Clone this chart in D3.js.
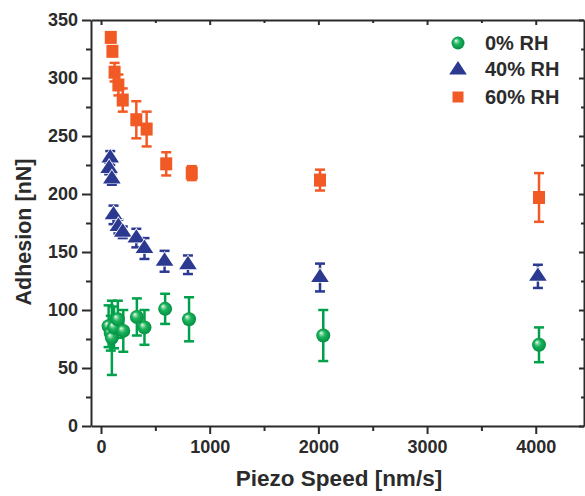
<!DOCTYPE html>
<html>
<head>
<meta charset="utf-8">
<script src="https://cdn.jsdelivr.net/npm/d3@7"></script>
<style>
  html, body { margin: 0; padding: 0; background: #fff; }
  svg { display: block; }
  text { font-family: "Liberation Sans", Arial, sans-serif; font-weight: bold; fill: #2b2b2b; }
</style>
</head>
<body>
<div id="chart"></div>
<script>
// ---- data ----
const seriesNames = ["0% RH", "40% RH", "60% RH"];

const speed0 = [70, 90, 100, 120, 155, 205, 330, 400, 590, 810, 2045, 4030];
const adh0   = [86, 80, 76, 85, 92, 82, 94, 85, 101, 92, 78, 70];
const err0   = [18, 15, 32, 18, 16, 18, 16, 15, 13, 19, 22, 15];

const speed40 = [85, 75, 100, 115, 160, 200, 325, 400, 585, 800, 2015, 4020];
const adh40   = [231, 222, 213, 182, 172, 167, 162, 153, 142, 139, 128, 129];
const err40   = [6, 5, 5, 8, 6, 5, 8, 9, 9, 8, 12, 10];

const speed60 = [90, 105, 125, 160, 200, 325, 420, 600, 835, 2015, 4030];
const adh60   = [335, 323, 305, 294, 281, 264, 256, 226, 218, 212, 197];
const err60   = [3, 4, 8, 9, 10, 16, 15, 10, 6, 9, 21];

const xTicks = [0, 1000, 2000, 3000, 4000];
const yTicks = [0, 50, 100, 150, 200, 250, 300, 350];

// ---- layout ----
const W = 585, H = 496;
const L = 91, R = 584, T = 20, B = 426;
const colors = { c0: "#00a14b", c40: "#2b3990", c60: "#f15a24" };

const svg = d3.select("#chart").append("svg").attr("width", W).attr("height", H);

const defs = svg.append("defs");
const grad = defs.append("radialGradient").attr("id", "ball")
  .attr("cx", "0.5").attr("cy", "0.5").attr("r", "0.55")
  .attr("fx", "0.33").attr("fy", "0.3");
grad.append("stop").attr("offset", "0").attr("stop-color", "#ffffff");
grad.append("stop").attr("offset", "0.18").attr("stop-color", "#8fdcaa");
grad.append("stop").attr("offset", "0.45").attr("stop-color", "#1bb35c");
grad.append("stop").attr("offset", "1").attr("stop-color", "#008a3e");

const x = d3.scaleLinear().domain([-92, 4444]).range([L, R]);
const y = d3.scaleLinear().domain([0, 350]).range([B, T]);

// ---- axes ----
const axisColor = "#2b2b2b";
function styleAxis(g) {
  g.selectAll("path.domain").attr("stroke", axisColor).attr("stroke-width", 2);
  g.selectAll(".tick line").attr("stroke", axisColor).attr("stroke-width", 2);
  g.selectAll("text").attr("font-size", 18).attr("fill", "#2b2b2b")
    .attr("font-family", "'Liberation Sans', Arial, sans-serif").attr("font-weight", "bold");
}
const xMinor = d3.range(500, 4500, 1000);
const yMinor = d3.range(25, 350, 50);

// bottom
const gx = svg.append("g").attr("transform", `translate(0,${B})`)
  .call(d3.axisBottom(x).tickValues(xTicks).tickFormat(d3.format("d")).tickSize(8).tickSizeOuter(0).tickPadding(6));
styleAxis(gx);
svg.append("g").attr("transform", `translate(0,${B})`)
  .call(d3.axisBottom(x).tickValues(xMinor).tickFormat("").tickSize(5).tickSizeOuter(0))
  .call(g => { g.select("path.domain").remove(); styleAxis(g); });
// left
const gy = svg.append("g").attr("transform", `translate(${L},0)`)
  .call(d3.axisLeft(y).tickValues(yTicks).tickSize(9).tickSizeOuter(0).tickPadding(4));
styleAxis(gy);
svg.append("g").attr("transform", `translate(${L},0)`)
  .call(d3.axisLeft(y).tickValues(yMinor).tickFormat("").tickSize(5).tickSizeOuter(0))
  .call(g => { g.select("path.domain").remove(); styleAxis(g); });
// top (inward)
svg.append("g").attr("transform", `translate(0,${T})`)
  .call(d3.axisTop(x).tickValues(xTicks).tickFormat("").tickSize(-5).tickSizeOuter(0))
  .call(styleAxis);
svg.append("g").attr("transform", `translate(0,${T})`)
  .call(d3.axisTop(x).tickValues(xMinor).tickFormat("").tickSize(-3).tickSizeOuter(0))
  .call(g => { g.select("path.domain").remove(); styleAxis(g); });
// right (inward)
svg.append("g").attr("transform", `translate(${R},0)`)
  .call(d3.axisRight(y).tickValues(yTicks).tickFormat("").tickSize(-5).tickSizeOuter(0))
  .call(styleAxis);
svg.append("g").attr("transform", `translate(${R},0)`)
  .call(d3.axisRight(y).tickValues(yMinor).tickFormat("").tickSize(-3).tickSizeOuter(0))
  .call(g => { g.select("path.domain").remove(); styleAxis(g); });

// axis titles
svg.append("text").attr("x", 339).attr("y", 486).attr("text-anchor", "middle")
  .attr("font-size", 22.5).text("Piezo Speed [nm/s]");
svg.append("text").attr("transform", `translate(31,${232}) rotate(-90)`).attr("text-anchor", "middle")
  .attr("font-size", 21.5).text("Adhesion [nN]");

// ---- data marks ----
function makeData(xs, ys, es) { return xs.map((v, i) => ({ x: v, y: ys[i], e: es[i] })); }
const d0 = makeData(speed0, adh0, err0);
const d40 = makeData(speed40, adh40, err40);
const d60 = makeData(speed60, adh60, err60);

const plot = svg.append("g");
function errorBars(data, color) {
  const g = plot.append("g").attr("stroke", color).attr("stroke-width", 2.5).attr("fill", "none");
  const cw = 5;
  data.forEach(d => {
    const px = x(d.x), y1 = y(d.y + d.e), y2 = y(d.y - d.e);
    g.append("line").attr("x1", px).attr("x2", px).attr("y1", y1).attr("y2", y2);
    g.append("line").attr("x1", px - cw).attr("x2", px + cw).attr("y1", y1).attr("y2", y1);
    g.append("line").attr("x1", px - cw).attr("x2", px + cw).attr("y1", y2).attr("y2", y2);
  });
}
errorBars(d60, colors.c60);
errorBars(d40, colors.c40);
errorBars(d0, colors.c0);

const triPath = d3.symbol().type(d3.symbolTriangle).size(115)();
const sqSize = 12;

plot.append("g").selectAll("rect").data(d60).join("rect")
  .attr("x", d => x(d.x) - sqSize / 2).attr("y", d => y(d.y) - sqSize / 2 - 0.5)
  .attr("width", sqSize).attr("height", sqSize + 1).attr("fill", colors.c60);

plot.append("g").selectAll("path").data(d40).join("path")
  .attr("d", triPath).attr("transform", d => `translate(${x(d.x)},${y(d.y)}) scale(1.08,0.95)`)
  .attr("fill", colors.c40).attr("stroke", "#fff").attr("stroke-width", 1.5).attr("paint-order", "stroke");

plot.append("g").selectAll("circle").data(d0).join("circle")
  .attr("cx", d => x(d.x)).attr("cy", d => y(d.y)).attr("r", 7)
  .attr("fill", "url(#ball)");

// ---- legend ----
const lg = svg.append("g");
const lx = 458, ly = [43, 69, 97];
lg.append("circle").attr("cx", lx).attr("cy", ly[0]).attr("r", 6.5).attr("fill", "url(#ball)");
lg.append("path").attr("d", triPath).attr("transform", `translate(${lx},${ly[1] + 1}) scale(1.08,0.95)`).attr("fill", colors.c40);
lg.append("rect").attr("x", lx - 5.5).attr("y", ly[2] - 5.5).attr("width", 11).attr("height", 11).attr("fill", colors.c60);
seriesNames.forEach((n, i) => {
  lg.append("text").attr("x", 485).attr("y", ly[i] + 7).attr("font-size", 20).text(n);
});
</script>
</body>
</html>
